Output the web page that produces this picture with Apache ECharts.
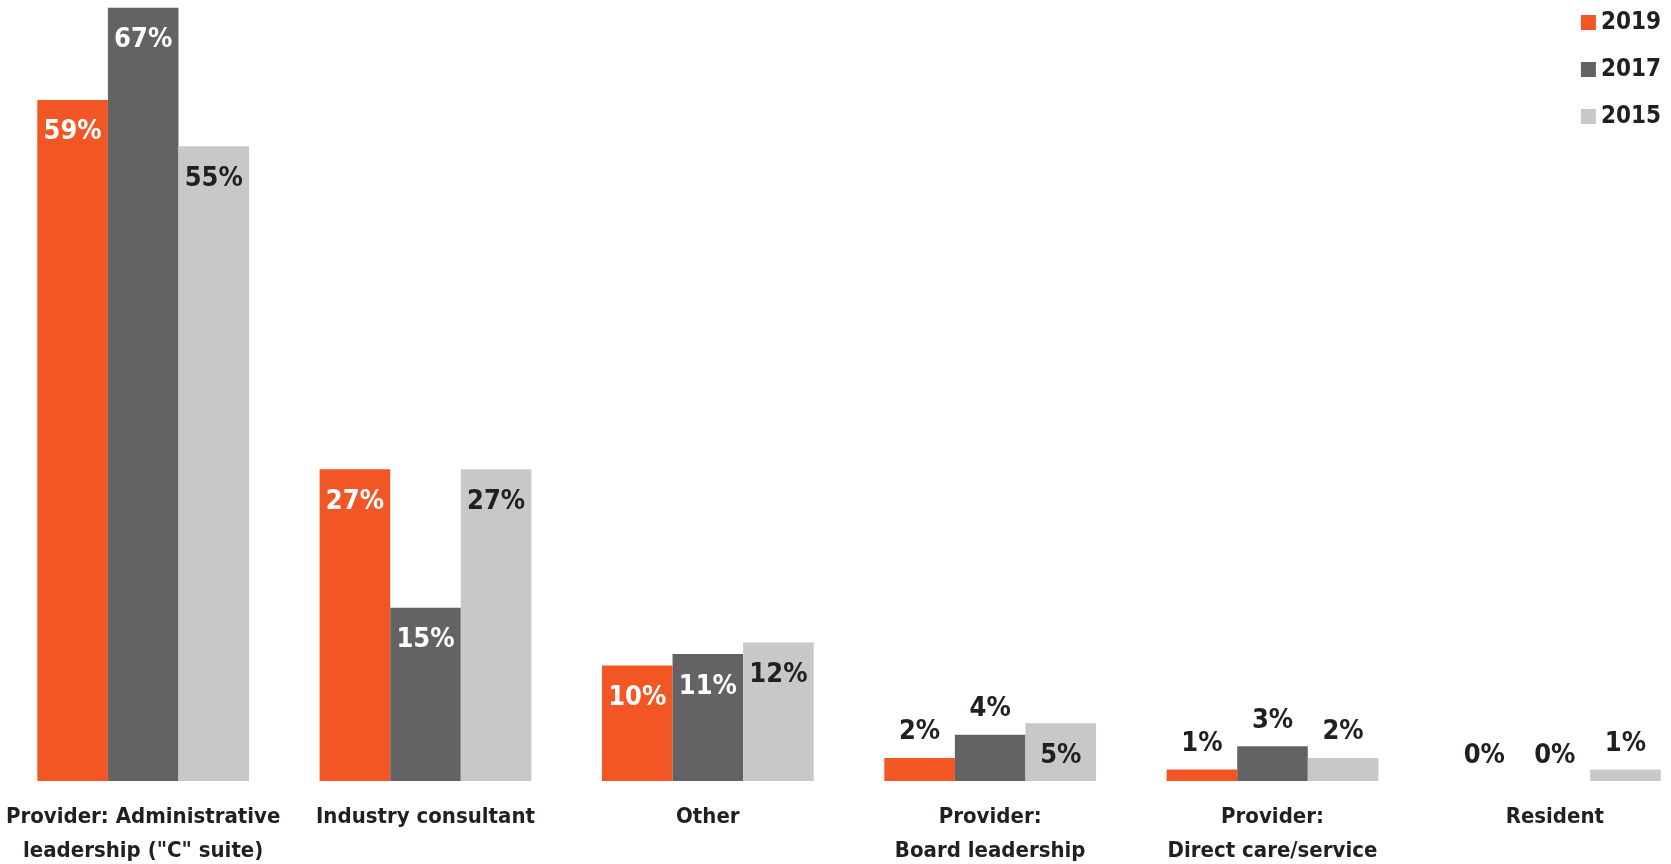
<!DOCTYPE html>
<html>
<head>
<meta charset="utf-8">
<script src="https://cdn.jsdelivr.net/npm/echarts@6/dist/echarts.min.js"></script>
<style>
html,body{margin:0;padding:0;background:#fff;}
#chart{width:1671px;height:864px;}
</style>
</head>
<body>
<div id="chart"></div>
<script>
const categories = [
  'Provider: Administrative\nleadership ("C" suite)',
  'Industry consultant',
  'Other',
  'Provider:\nBoard leadership',
  'Provider:\nDirect care/service',
  'Resident'
];
const seriesNames = ['2019', '2017', '2015'];
const values2019 = [59, 27, 10, 2, 1, 0];
const values2017 = [67, 15, 11, 4, 3, 0];
const values2015 = [55, 27, 12, 5, 2, 1];
const colors = ['#F15624', '#636365', '#C7C8CA'];

const FONT = '"DejaVu Sans Condensed", "Liberation Sans Narrow", sans-serif';
const DARK = '#231F20';

function makeSeries(name, vals, color, lightBar) {
  return {
    name: name,
    type: 'bar',
    barGap: '0%',
    barCategoryGap: '25%',
    itemStyle: { color: color },
    data: vals.map(v => {
      const inside = v >= 5;
      return {
        value: v,
        label: {
          show: true,
          position: inside ? 'insideTop' : 'top',
          distance: inside ? 19 : 12,
          color: inside && !lightBar ? '#ffffff' : DARK,
          fontFamily: FONT,
          fontWeight: 'bold',
          fontSize: 27,
          formatter: '{c}%'
        }
      };
    })
  };
}

const chart = echarts.init(document.getElementById('chart'));
chart.setOption({
  animation: false,
  backgroundColor: '#ffffff',
  legend: {
    orient: 'vertical',
    right: 5,
    top: 5,
    itemWidth: 15,
    itemHeight: 15,
    itemGap: 22,
    icon: 'rect',
    data: seriesNames,
    textStyle: { fontFamily: FONT, fontWeight: 'bold', fontSize: 24, color: DARK, lineHeight: 25 }
  },
  grid: { left: 2, width: 1694, bottom: 83, height: 808, containLabel: false, outerBoundsMode: 'none' },
  xAxis: {
    type: 'category',
    data: categories,
    axisLine: { show: false },
    axisTick: { show: false },
    axisLabel: {
      interval: 0,
      margin: 19,
      fontFamily: FONT,
      fontWeight: 'bold',
      fontSize: 22,
      lineHeight: 34,
      color: DARK,
      align: 'center'
    }
  },
  yAxis: {
    type: 'value',
    min: 0,
    max: 70,
    show: false,
    splitLine: { show: false }
  },
  series: [
    makeSeries(seriesNames[0], values2019, colors[0], false),
    makeSeries(seriesNames[1], values2017, colors[1], false),
    makeSeries(seriesNames[2], values2015, colors[2], true)
  ]
});
</script>
</body>
</html>
